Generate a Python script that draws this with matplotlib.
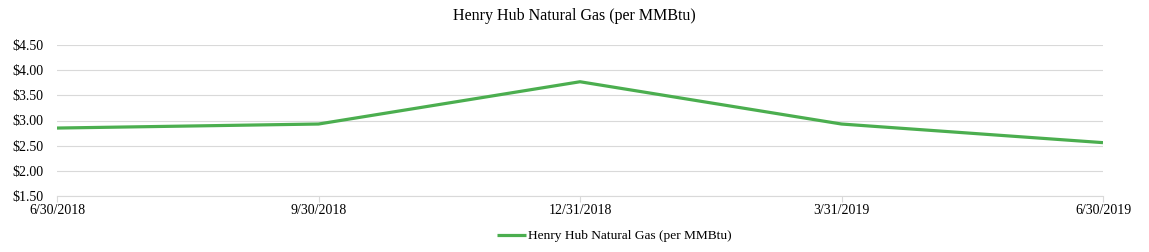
import matplotlib
matplotlib.use("Agg")
import matplotlib.pyplot as plt
from matplotlib.ticker import FuncFormatter

dates = ["6/30/2018", "9/30/2018", "12/31/2018", "3/31/2019", "6/30/2019"]
prices = [2.85, 2.93, 3.77, 2.93, 2.56]
series_name = "Henry Hub Natural Gas (per MMBtu)"
yticks = [1.50, 2.00, 2.50, 3.00, 3.50, 4.00, 4.50]

plt.rcParams['font.family'] = ['Liberation Serif', 'DejaVu Serif']

fig = plt.figure(figsize=(11.49, 2.52), dpi=100)
ax = fig.add_axes([57/1149, 1-196/252, (1103-57)/1149, (196-45)/252])

x = list(range(len(dates)))
ax.plot(x, prices, color="#4BAE4F", linewidth=2.3, label=series_name, solid_capstyle='butt')

ax.set_xlim(0, len(dates)-1)
ax.set_ylim(1.5, 4.5)
ax.set_yticks(yticks)
ax.yaxis.set_major_formatter(FuncFormatter(lambda v, p: f"${v:.2f}"))
ax.set_xticks(x)
ax.set_xticklabels(dates)
ax.grid(axis='y', color="#D9D9D9", linewidth=0.8)
ax.set_axisbelow(True)
for s in ['top', 'right', 'left']:
    ax.spines[s].set_visible(False)
ax.spines['bottom'].set_color("#D9D9D9")
ax.spines['bottom'].set_linewidth(0.8)
ax.tick_params(axis='y', length=0, labelsize=10, pad=10, colors='black')
ax.tick_params(axis='x', length=4, color="#D9D9D9", labelsize=10, pad=2)

fig.text(0.5, 1-16/252, series_name, ha='center', va='center', fontsize=11.5)
fig.legend(loc='center', bbox_to_anchor=(614/1149, 1-236/252), frameon=False, fontsize=9.6,
           handlelength=2.2, handletextpad=0.1)

fig.savefig("out.png", dpi=100)
